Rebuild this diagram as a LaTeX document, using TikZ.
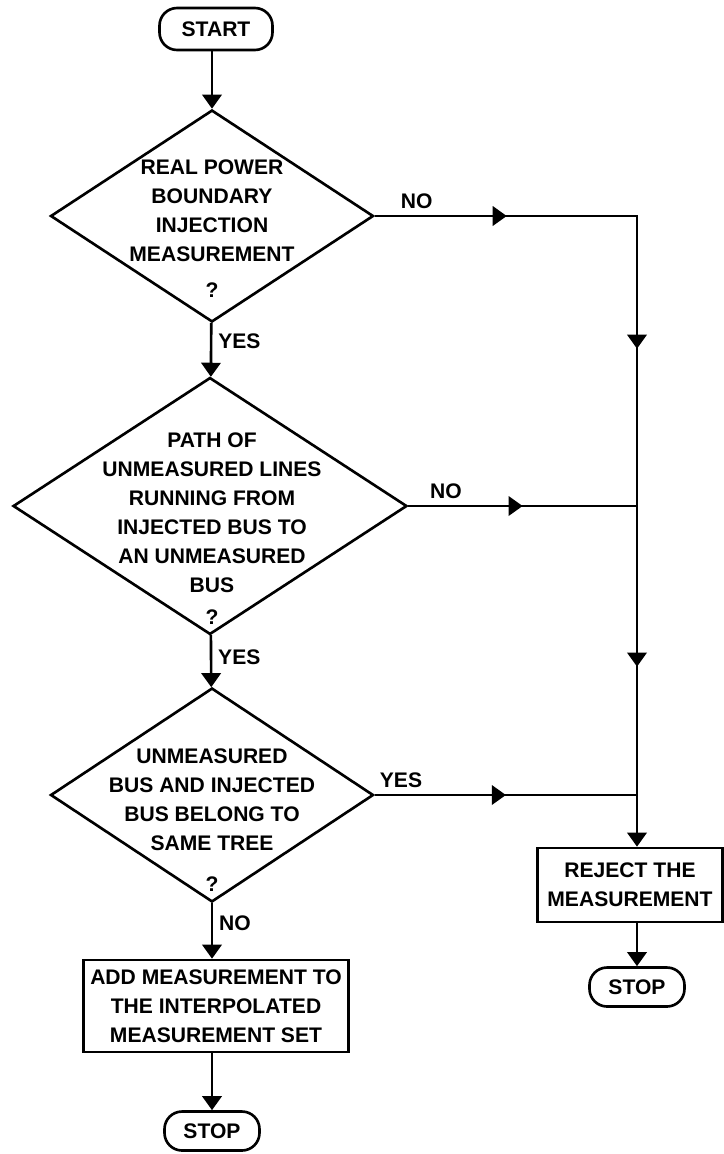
\documentclass[tikz,border=0pt]{standalone}
\usepackage{fontspec}
\setmainfont{Liberation Sans}
\usetikzlibrary{shapes.geometric,arrows.meta,decorations.markings,positioning}

\begin{document}
\begin{tikzpicture}[x=0.02cm,y=-0.02cm,line width=1.5pt,
		>={Triangle[width=11pt,length=8pt]},
		every node/.style={font=\bfseries\fontsize{12}{16.5}\selectfont},
		term/.style={draw,rounded corners=10pt,minimum width=1.9cm,minimum height=0.78cm,inner sep=0pt},
		decision/.style={draw,diamond,inner sep=0pt},
		proc/.style={draw,align=center,inner sep=0pt},
		midarrow/.style={postaction={decorate},decoration={markings,mark=at position #1 with {\arrow{>}}}},
		midarrow/.default=0.5]
		\useasboundingbox (0,0) rectangle (724,1154);
		% terminals and boxes
		\node[term,minimum width=2.26cm,minimum height=0.84cm] (start) at (216,29) {START};
		\node[proc,minimum width=5.3cm,minimum height=1.84cm] (add) at (216,1006) {ADD MEASUREMENT TO\\THE INTERPOLATED\\MEASUREMENT SET};
		\node[term] (stopL) at (212,1131) {STOP};
		\node[proc,minimum width=3.7cm,minimum height=1.48cm] (rej) at (630,885) {REJECT THE\\MEASUREMENT};
		\node[term] (stopR) at (637,987) {STOP};
		% decisions
		\node[decision,minimum width=6.46cm,minimum height=4.24cm] (q1) at (212,216) {};
		\node[align=center] (q1txt) at (212,211) {REAL POWER\\BOUNDARY\\INJECTION\\MEASUREMENT};
		\node (q1q) at (212,290) {?};
		\node[decision,minimum width=7.88cm,minimum height=5.14cm] (q2) at (210,506) {};
		\node[align=center] (q2txt) at (212,513) {PATH OF\\UNMEASURED LINES\\RUNNING FROM\\INJECTED BUS TO\\AN UNMEASURED\\BUS};
		\node (q2q) at (212,617) {?};
		\node[decision,minimum width=6.46cm,minimum height=4.28cm] (q3) at (212,795) {};
		\node[align=center] (q3txt) at (212,800) {UNMEASURED\\BUS AND INJECTED\\BUS BELONG TO\\SAME TREE};
		\node (q3q) at (212,884) {?};
		% right hand bus
		\coordinate (b1) at (637,216);
		\coordinate (b2) at (637,506);
		\coordinate (b3) at (637,795);
		% main column
		\draw[->] (start.south -| q1.north) -- (q1.north);
		\draw[->] (q1) -- node[right,pos=0.35]{YES} (q2);
		\draw[->] (q2) -- node[right,pos=0.42]{YES} (q3);
		\draw[->] (q3.south) -- node[right,pos=0.36]{NO} (q3.south |- add.north);
		\draw[->] (add.south -| stopL) -- (stopL);
		% rejections
		\draw[->,postaction={decorate},decoration={markings,
			mark=at position 2.64cm with {\arrow{>}},
			mark=at position 7.9cm with {\arrow{>}},
			mark=at position 14.26cm with {\arrow{>}}}]
			(q1.east) -- node[above,pos=0.16]{NO} (b1) -- (b2) -- (b3) -- (b3 |- rej.north);
		\draw[midarrow] (q2.east) -- node[above,pos=0.165]{NO} (b2);
		\draw[midarrow] (q3.east) -- node[above,pos=0.1]{YES} (b3);
		\draw[->] (rej.south -| stopR) -- (stopR);
	\end{tikzpicture}
\end{document}
